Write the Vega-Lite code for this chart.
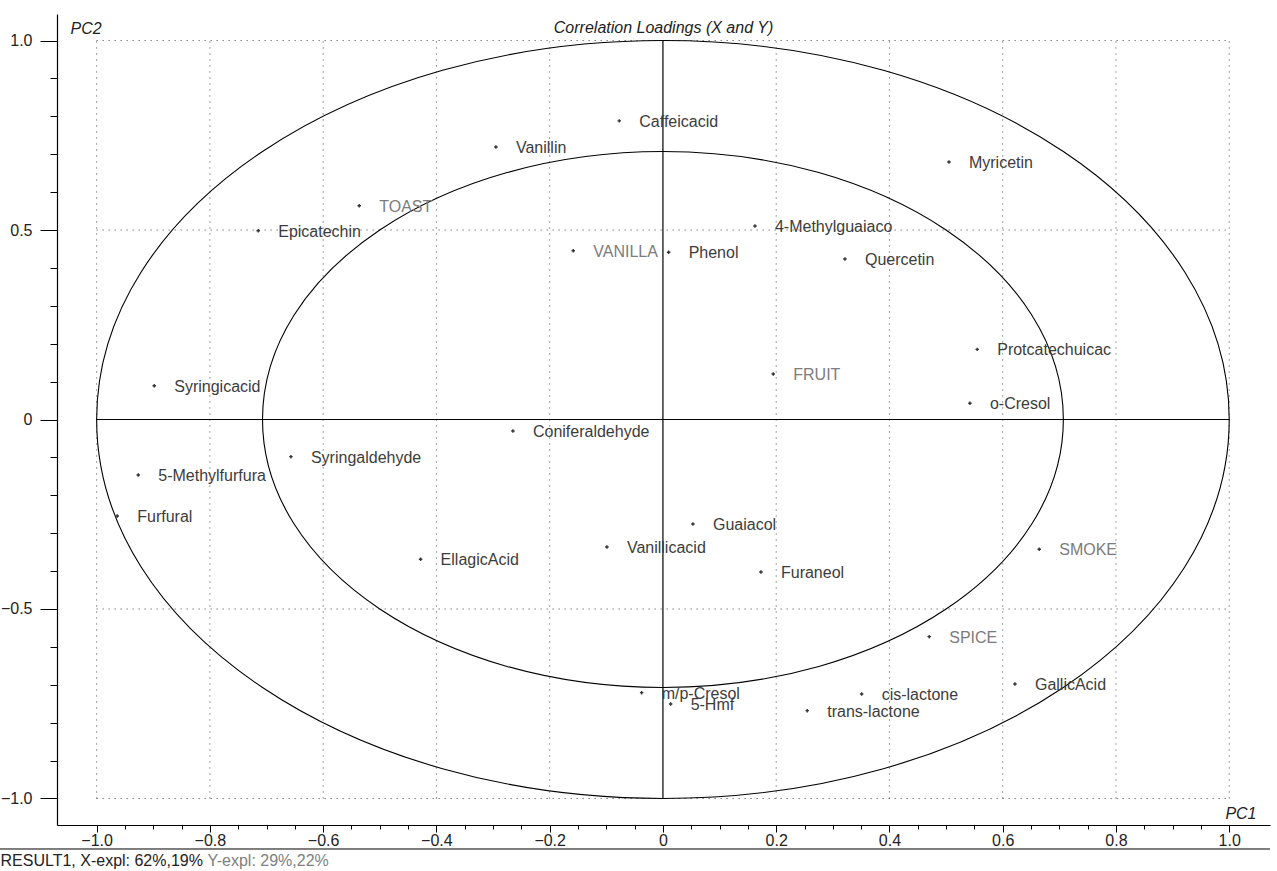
{
  "$schema": "https://vega.github.io/schema/vega-lite/v6.json",
  "width": 1213,
  "height": 811,
  "autosize": {"type": "none"},
  "padding": {"left": 57, "top": 14, "right": 7, "bottom": 46},
  "background": "white",
  "config": {"view": {"stroke": null}, "font": "Liberation Sans", "axis": {"grid": false}},
  "title": {"text": "Correlation Loadings (X and Y)", "font": "Liberation Sans", "fontSize": 16, "fontStyle": "italic", "fontWeight": "normal", "color": "#222222", "anchor": "middle", "frame": "group", "offset": 0, "baseline": "middle", "dy": 30},
  "resolve": {"axis": {"x": "independent", "y": "independent"}},
  "datasets": {
    "loadings": [
      {"name": "Caffeicacid", "kind": "X", "x": -0.0771, "y": 0.788},
      {"name": "Vanillin", "kind": "X", "x": -0.2949, "y": 0.719},
      {"name": "TOAST", "kind": "Y", "x": -0.5363, "y": 0.564},
      {"name": "Epicatechin", "kind": "X", "x": -0.7147, "y": 0.498},
      {"name": "Myricetin", "kind": "X", "x": 0.5051, "y": 0.6794},
      {"name": "4-Methylguaiaco", "kind": "X", "x": 0.1625, "y": 0.5106},
      {"name": "VANILLA", "kind": "Y", "x": -0.1584, "y": 0.4454},
      {"name": "Phenol", "kind": "X", "x": 0.0101, "y": 0.4412},
      {"name": "Quercetin", "kind": "X", "x": 0.3214, "y": 0.4235},
      {"name": "Protcatechuicac", "kind": "X", "x": 0.555, "y": 0.185},
      {"name": "FRUIT", "kind": "Y", "x": 0.1948, "y": 0.12},
      {"name": "o-Cresol", "kind": "X", "x": 0.5421, "y": 0.0427},
      {"name": "Syringicacid", "kind": "X", "x": -0.8983, "y": 0.0892},
      {"name": "Coniferaldehyde", "kind": "X", "x": -0.2649, "y": -0.0303},
      {"name": "Syringaldehyde", "kind": "X", "x": -0.6569, "y": -0.0981},
      {"name": "5-Methylfurfura", "kind": "X", "x": -0.9265, "y": -0.1464},
      {"name": "Furfural", "kind": "X", "x": -0.9636, "y": -0.2546},
      {"name": "Guaiacol", "kind": "X", "x": 0.053, "y": -0.2757},
      {"name": "Vanillicacid", "kind": "X", "x": -0.0989, "y": -0.3364},
      {"name": "SMOKE", "kind": "Y", "x": 0.6645, "y": -0.3425},
      {"name": "EllagicAcid", "kind": "X", "x": -0.4279, "y": -0.3689},
      {"name": "Furaneol", "kind": "X", "x": 0.1731, "y": -0.4024},
      {"name": "SPICE", "kind": "Y", "x": 0.4703, "y": -0.573},
      {"name": "GallicAcid", "kind": "X", "x": 0.6216, "y": -0.698},
      {"name": "m/p-Cresol", "kind": "X", "x": -0.0376, "y": -0.7208},
      {"name": "cis-lactone", "kind": "X", "x": 0.3509, "y": -0.7243},
      {"name": "5-Hmf", "kind": "X", "x": 0.0136, "y": -0.7507},
      {"name": "trans-lactone", "kind": "X", "x": 0.2548, "y": -0.7683}
    ],
    "vgrid": [{"v": -1}, {"v": -0.8}, {"v": -0.6}, {"v": -0.4}, {"v": -0.2}, {"v": 0.2}, {"v": 0.4}, {"v": 0.6}, {"v": 0.8}, {"v": 1}],
    "hgrid": [{"v": -1}, {"v": -0.5}, {"v": 0.5}, {"v": 1}],
    "circles": [{"circle": "outer", "r": 1}, {"circle": "inner", "r": 0.7071}]
  },
  "layer": [
    {
      "data": {"name": "vgrid"},
      "mark": {"type": "rule", "color": "#444444", "strokeWidth": 1, "strokeDash": [1, 5]},
      "encoding": {
        "x": {"field": "v", "type": "quantitative", "axis": null, "scale": {"domain": [-1.07, 1.072], "nice": false, "zero": false}},
        "y": {"datum": -1, "type": "quantitative", "axis": null, "scale": {"domain": [-1.07, 1.07], "nice": false, "zero": false}},
        "y2": {"datum": 1}
      }
    },
    {
      "data": {"name": "hgrid"},
      "mark": {"type": "rule", "color": "#444444", "strokeWidth": 1, "strokeDash": [1, 5]},
      "encoding": {
        "y": {"field": "v", "type": "quantitative", "axis": null},
        "x": {"datum": -1, "type": "quantitative", "axis": null},
        "x2": {"datum": 1}
      }
    },
    {
      "data": {"values": [{}]},
      "mark": {"type": "rule", "color": "black", "strokeWidth": 1.2},
      "encoding": {
        "x": {"datum": 0, "type": "quantitative", "axis": null},
        "y": {"datum": -1, "type": "quantitative", "axis": null},
        "y2": {"datum": 1}
      }
    },
    {
      "data": {"values": [{}]},
      "mark": {"type": "rule", "color": "black", "strokeWidth": 1.2},
      "encoding": {
        "y": {"datum": 0, "type": "quantitative", "axis": null},
        "x": {"datum": -1, "type": "quantitative", "axis": null},
        "x2": {"datum": 1}
      }
    },
    {
      "data": {"values": [{}]},
      "mark": {"type": "rule", "color": "black", "strokeWidth": 1},
      "encoding": {
        "y": {"datum": -1.1333, "type": "quantitative", "axis": null},
        "x": {"datum": -1.1707, "type": "quantitative", "axis": null},
        "x2": {"datum": 1.072}
      }
    },
    {
      "data": {"name": "circles"},
      "mark": {"type": "point", "shape": "M -1 0 A 1 0.66922 0 1 1 1 0 A 1 0.66922 0 1 1 -1 0 Z", "filled": false, "stroke": "black", "strokeWidth": 1.1, "opacity": 1},
      "encoding": {
        "x": {"datum": 0, "type": "quantitative", "axis": null},
        "y": {"datum": 0, "type": "quantitative", "axis": null},
        "size": {"field": "r", "type": "quantitative", "legend": null, "scale": {"type": "pow", "exponent": 2, "domain": [0, 1], "range": [0, 1282738]}}
      }
    },
    {
      "data": {"name": "loadings"},
      "mark": {"type": "point", "shape": "cross", "filled": true, "size": 12, "color": "#333333", "opacity": 1},
      "encoding": {
        "x": {"field": "x", "type": "quantitative", "axis": {
          "orient": "bottom",
          "values": [-1, -0.8, -0.6, -0.4, -0.2, 0, 0.2, 0.4, 0.6, 0.8, 1],
          "labelExpr": "datum.value == 0 ? '0' : format(datum.value, '.1f')",
          "tickSize": 7, "tickColor": "black", "domainColor": "black", "domainWidth": 1.2,
          "labelFontSize": 16, "labelColor": "#222222", "labelPadding": 0, "labelFlush": false, "labelOverlap": false,
          "title": "PC1", "titleFontStyle": "italic", "titleFontWeight": "normal", "titleFontSize": 16, "titleColor": "#222222",
          "titleX": 1199, "titleY": -11.5, "titleAlign": "right", "titleBaseline": "middle"
        }},
        "y": {"field": "y", "type": "quantitative", "axis": {
          "orient": "left",
          "values": [-1, -0.5, 0, 0.5, 1],
          "labelExpr": "datum.value == 0 ? '0' : format(datum.value, '.1f')",
          "tickSize": 17, "tickColor": "black", "domainColor": "black", "domainWidth": 1.2,
          "labelFontSize": 16, "labelColor": "#222222", "labelPadding": 8, "labelFlush": false, "labelOverlap": false,
          "title": "PC2", "titleFontStyle": "italic", "titleFontWeight": "normal", "titleFontSize": 16, "titleColor": "#222222",
          "titleAngle": 0, "titleX": 13, "titleY": 14.3, "titleAlign": "left", "titleBaseline": "middle"
        }}
      }
    },
    {
      "data": {"name": "loadings"},
      "mark": {"type": "text", "align": "left", "baseline": "middle", "dx": 20, "dy": 1, "fontSize": 16, "font": "Liberation Sans"},
      "encoding": {
        "x": {"field": "x", "type": "quantitative", "axis": {
          "orient": "bottom",
          "values": [-1, -0.95, -0.9, -0.85, -0.8, -0.75, -0.7, -0.65, -0.6, -0.55, -0.5, -0.45, -0.4, -0.35, -0.3, -0.25, -0.2, -0.15, -0.1, -0.05, 0, 0.05, 0.1, 0.15, 0.2, 0.25, 0.3, 0.35, 0.4, 0.45, 0.5, 0.55, 0.6, 0.65, 0.7, 0.75, 0.8, 0.85, 0.9, 0.95, 1],
          "tickSize": 4, "tickColor": "black", "domain": false, "labels": false,
          "title": "RESULT1, X-expl: 62%,19%", "titleFontWeight": "normal", "titleFontSize": 16, "titleColor": "#222222",
          "titleX": -57, "titleY": 35, "titleAlign": "left", "titleBaseline": "middle"
        }},
        "y": {"field": "y", "type": "quantitative", "axis": {
          "orient": "left",
          "values": [-1, -0.9, -0.8, -0.7, -0.6, -0.5, -0.4, -0.3, -0.2, -0.1, 0, 0.1, 0.2, 0.3, 0.4, 0.5, 0.6, 0.7, 0.8, 0.9, 1],
          "tickSize": 7, "tickColor": "black", "domain": false, "labels": false,
          "title": "Y-expl: 29%,22%", "titleFontWeight": "normal", "titleFontSize": 16, "titleColor": "#808080",
          "titleAngle": 0, "titleX": 150, "titleY": 846, "titleAlign": "left", "titleBaseline": "middle"
        }},
        "text": {"field": "name", "type": "nominal"},
        "color": {"field": "kind", "type": "nominal", "legend": null, "scale": {"domain": ["X", "Y"], "range": ["#3c3c3c", "#7c7c7c"]}}
      }
    }
  ]
}
